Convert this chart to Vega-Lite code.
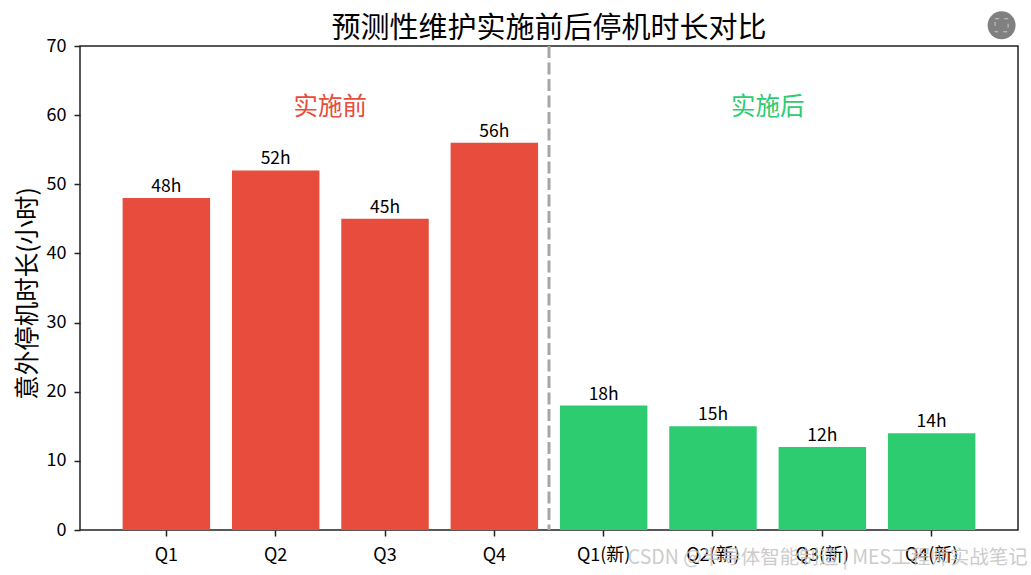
{
  "$schema": "https://vega.github.io/schema/vega-lite/v6.json",
  "description": "预测性维护实施前后停机时长对比",
  "width": 938,
  "height": 484,
  "padding": {"left": 80, "top": 46, "right": 13, "bottom": 45},
  "autosize": {"type": "none"},
  "background": "#ffffff",
  "config": {
    "font": "Noto Sans CJK SC",
    "view": {"stroke": "#222222", "strokeWidth": 1.5}
  },
  "title": {
    "text": "预测性维护实施前后停机时长对比",
    "fontSize": 29,
    "fontWeight": "normal",
    "color": "#000000",
    "font": "Noto Sans CJK SC",
    "anchor": "middle",
    "offset": -33
  },
  "datasets": {
    "bars": [
      {"quarter": "Q1", "hours": 48, "label": "48h", "phase": "实施前"},
      {"quarter": "Q2", "hours": 52, "label": "52h", "phase": "实施前"},
      {"quarter": "Q3", "hours": 45, "label": "45h", "phase": "实施前"},
      {"quarter": "Q4", "hours": 56, "label": "56h", "phase": "实施前"},
      {"quarter": "Q1(新)", "hours": 18, "label": "18h", "phase": "实施后"},
      {"quarter": "Q2(新)", "hours": 15, "label": "15h", "phase": "实施后"},
      {"quarter": "Q3(新)", "hours": 12, "label": "12h", "phase": "实施后"},
      {"quarter": "Q4(新)", "hours": 14, "label": "14h", "phase": "实施后"}
    ],
    "notes": [
      {"quarter": "Q2", "hours": 60, "phase": "实施前"},
      {"quarter": "Q2(新)", "hours": 60, "phase": "实施后"}
    ],
    "divider": [{"quarter": "Q4"}],
    "watermark": [{"quarter": "Q4(新)", "hours": -4, "text": "CSDN @半导体智能制造 | MES工程师实战笔记"}],
    "badge": [{"quarter": "Q4(新)", "hours": 73}]
  },
  "encoding": {
    "x": {
      "field": "quarter",
      "type": "nominal",
      "sort": null,
      "scale": {
        "domain": ["Q1", "Q2", "Q3", "Q4", "Q1(新)", "Q2(新)", "Q3(新)", "Q4(新)"],
        "paddingInner": 0.2,
        "paddingOuter": 0.39
      },
      "axis": {
        "title": null,
        "labelAngle": 0,
        "labelFontSize": 18,
        "labelColor": "#000000",
        "labelPadding": 10,
        "tickColor": "#222222",
        "tickSize": 6,
        "tickWidth": 1.5,
        "domain": false,
        "grid": false
      }
    }
  },
  "layer": [
    {
      "data": {"name": "bars"},
      "mark": {"type": "bar"},
      "encoding": {
        "y": {
          "field": "hours",
          "type": "quantitative",
          "scale": {"domain": [0, 70], "nice": false},
          "axis": {
            "title": "意外停机时长(小时)",
            "titleFontSize": 24.5,
            "titleFontWeight": "normal",
            "titleColor": "#000000",
            "titlePadding": 6,
            "titleY": 247,
            "labelFontSize": 18,
            "labelColor": "#000000",
            "labelPadding": 8,
            "tickColor": "#222222",
            "tickSize": 6,
            "tickWidth": 1.5,
            "values": [0, 10, 20, 30, 40, 50, 60, 70],
            "domain": false,
            "grid": false
          }
        },
        "color": {
          "field": "phase",
          "type": "nominal",
          "scale": {"domain": ["实施前", "实施后"], "range": ["#e74c3c", "#2ecc71"]},
          "legend": null
        }
      }
    },
    {
      "data": {"name": "bars"},
      "mark": {"type": "text", "baseline": "alphabetic", "dy": -6, "fontSize": 17.5, "color": "#000000"},
      "encoding": {
        "y": {"field": "hours", "type": "quantitative"},
        "text": {"field": "label"}
      }
    },
    {
      "data": {"name": "divider"},
      "mark": {"type": "rule", "color": "#a6a6a6", "strokeWidth": 3, "strokeDash": [12, 4.5]},
      "encoding": {
        "x": {"field": "quarter", "type": "nominal", "bandPosition": 1.125}
      }
    },
    {
      "data": {"name": "notes"},
      "mark": {"type": "text", "baseline": "alphabetic", "fontSize": 24.5},
      "encoding": {
        "x": {"field": "quarter", "type": "nominal", "bandPosition": 1.125},
        "y": {"field": "hours", "type": "quantitative"},
        "text": {"field": "phase"},
        "color": {"field": "phase", "type": "nominal"}
      }
    },
    {
      "data": {"name": "watermark"},
      "mark": {"type": "text", "align": "right", "baseline": "middle", "fontSize": 19.5, "color": "#c4c4c4", "opacity": 0.85, "font": "Noto Sans CJK SC", "dx": 96},
      "encoding": {
        "y": {"field": "hours", "type": "quantitative"},
        "text": {"field": "text"}
      }
    },
    {
      "data": {"name": "badge"},
      "mark": {"type": "point", "filled": true, "shape": "circle", "size": 780, "color": "#808080", "opacity": 1},
      "encoding": {
        "x": {"field": "quarter", "type": "nominal", "bandPosition": 1.3},
        "y": {"field": "hours", "type": "quantitative"}
      }
    },
    {
      "data": {"name": "badge"},
      "mark": {"type": "point", "filled": false, "shape": "square", "size": 170, "color": "#c9c9c9", "opacity": 1, "strokeWidth": 1, "strokeDash": [4, 5]},
      "encoding": {
        "x": {"field": "quarter", "type": "nominal", "bandPosition": 1.3},
        "y": {"field": "hours", "type": "quantitative"}
      }
    }
  ]
}
